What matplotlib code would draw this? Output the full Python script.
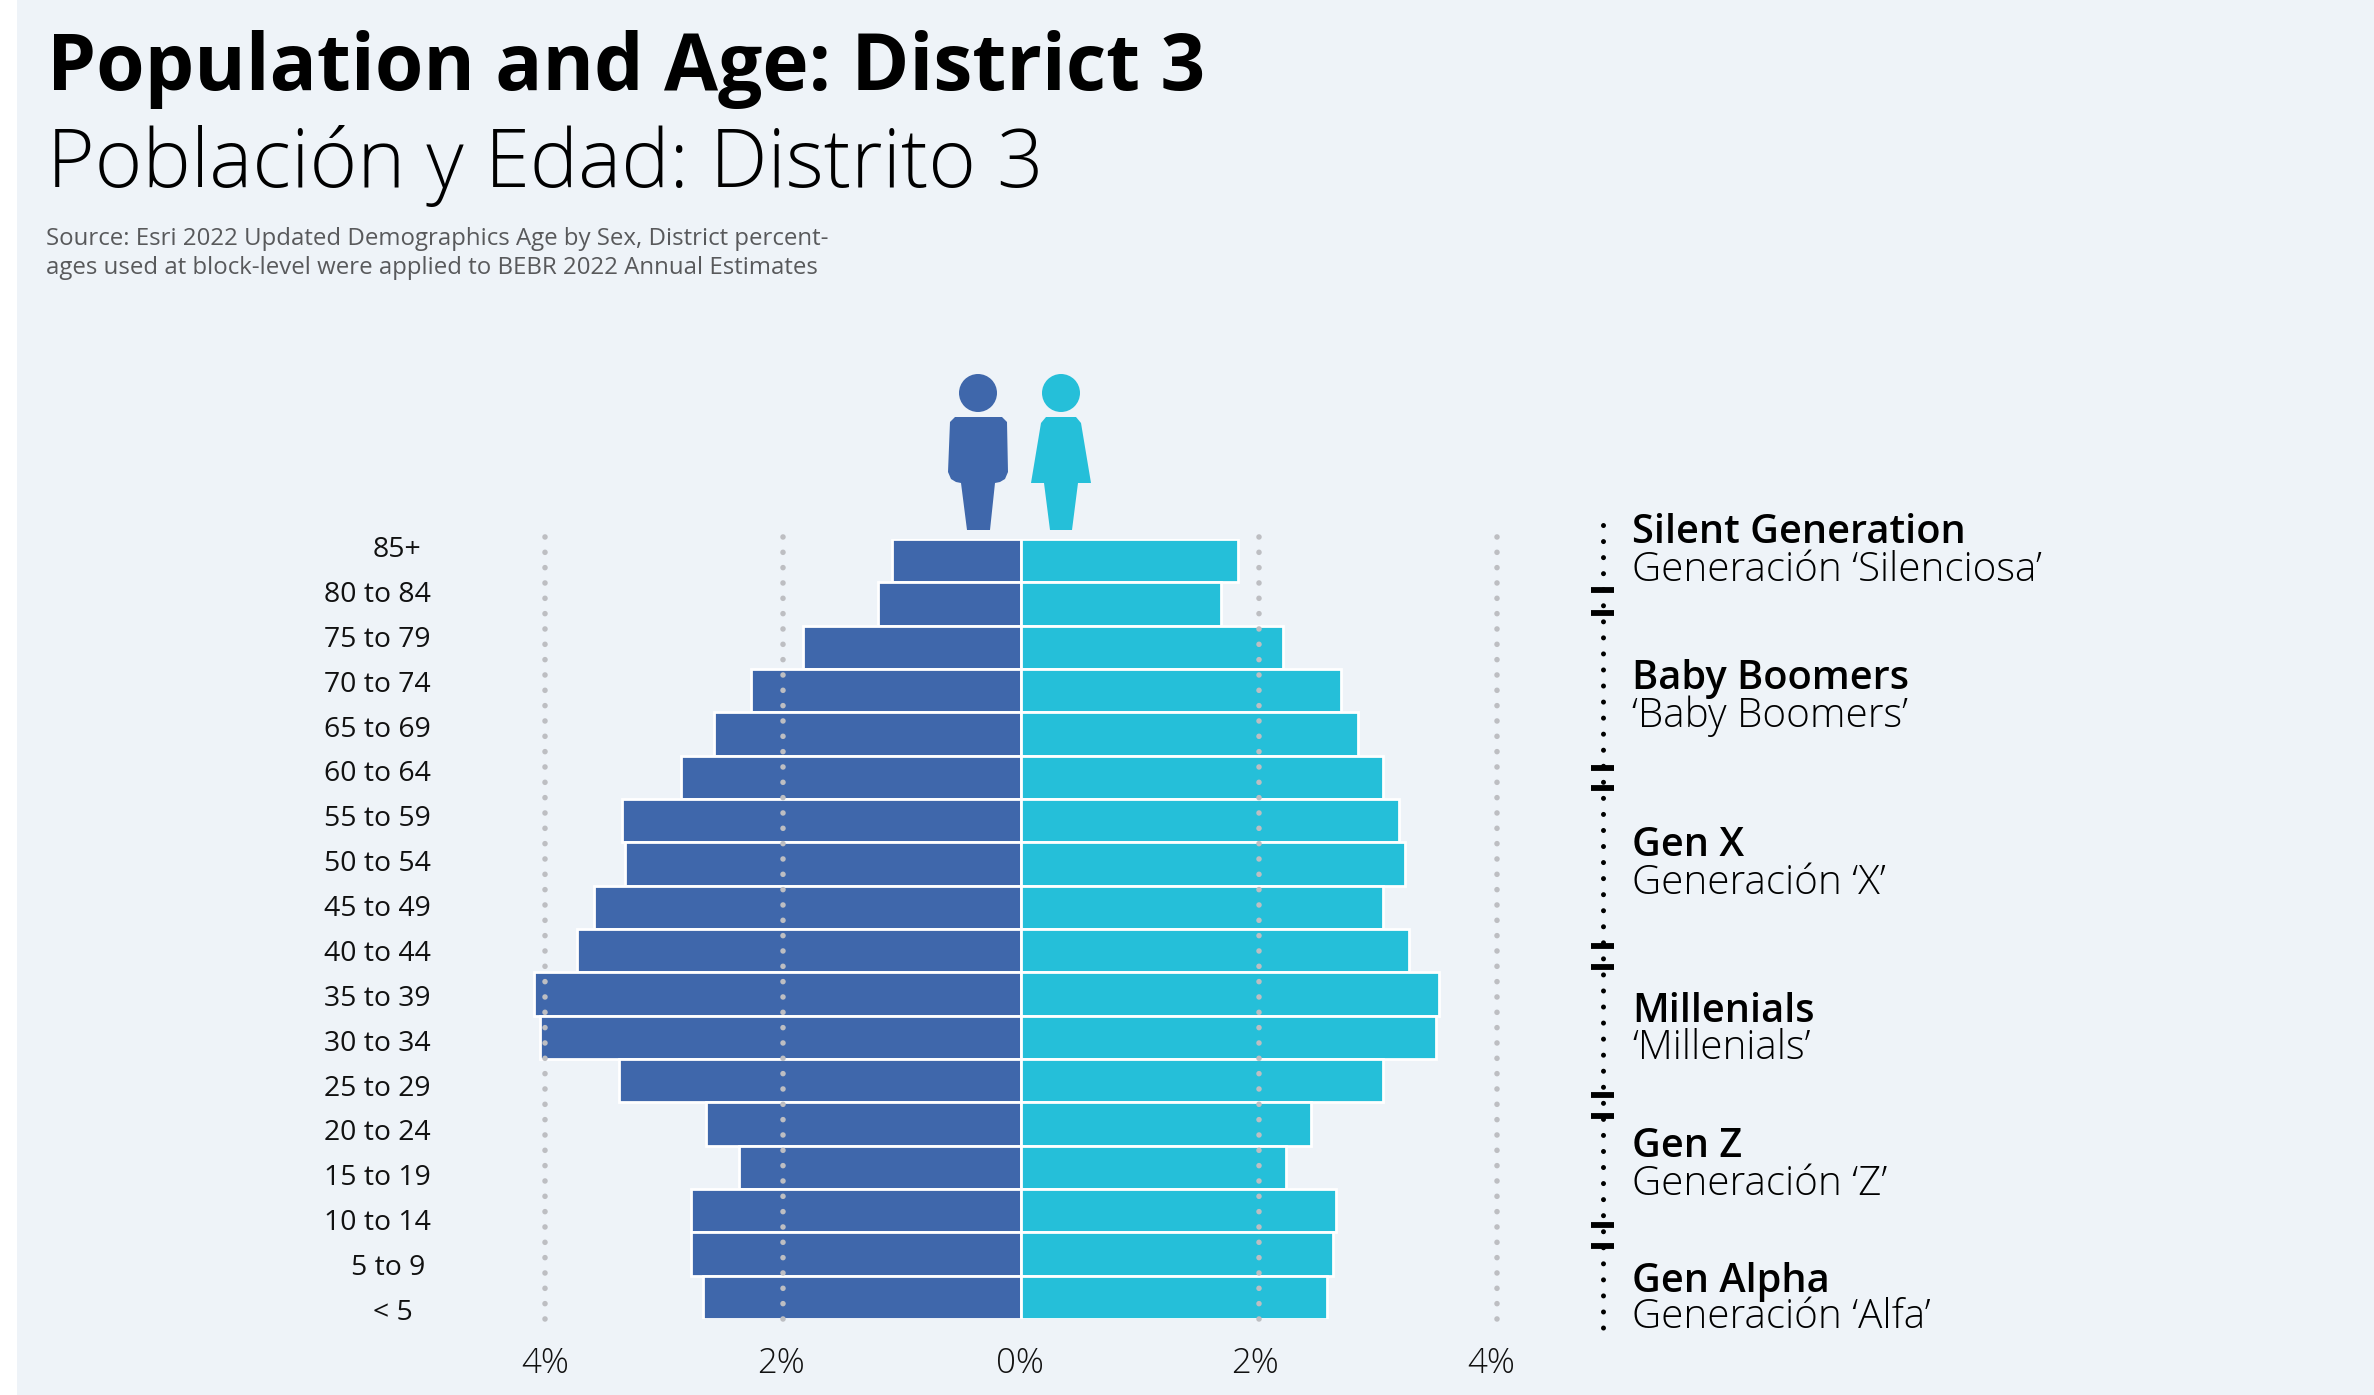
import numpy as np
import matplotlib
matplotlib.use('Agg')
import matplotlib.pyplot as plt
from matplotlib.patches import Rectangle, Circle, Polygon

# Datos
ages = ['85+', '80 to 84', '75 to 79', '70 to 74', '65 to 69', '60 to 64', '55 to 59', '50 to 54', '45 to 49',
        '40 to 44', '35 to 39', '30 to 34', '25 to 29', '20 to 24', '15 to 19', '10 to 14', '5 to 9', '< 5']
male = [1.08, 1.20, 1.83, 2.27, 2.58, 2.86, 3.35, 3.33, 3.59, 3.73, 4.09, 4.04, 3.38, 2.65, 2.37, 2.77, 2.77, 2.67]
female = [1.82, 1.68, 2.20, 2.69, 2.83, 3.04, 3.18, 3.23, 3.04, 3.26, 3.51, 3.49, 3.04, 2.44, 2.23, 2.65, 2.62, 2.57]
ticks = [-4, -2, 0, 2, 4]
tick_labels = ['4%', '2%', '0%', '2%', '4%']
gen_en = ['Silent Generation', 'Baby Boomers', 'Gen X', 'Millenials', 'Gen Z', 'Gen Alpha']
gen_es = ['Generación ‘Silenciosa’', '‘Baby Boomers’', 'Generación ‘X’', '‘Millenials’', 'Generación ‘Z’', 'Generación ‘Alfa’']

BLUE = '#3F67AB'
CYAN = '#25BFD9'
BG = '#EEF3F8'
FONT = 'Open Sans'

W, H = 2374, 1395
fig = plt.figure(figsize=(W / 100, H / 100), dpi=100, facecolor='white')

# Capa de fondo en pixeles
bg = fig.add_axes([0, 0, 1, 1], zorder=0)
bg.set_xlim(0, W)
bg.set_ylim(H, 0)
bg.axis('off')
bg.add_patch(Rectangle((17, 0), W - 17, H, color=BG, lw=0))

# Titulos
bg.text(47, 90, 'Population and Age: District 3', fontsize=56.4, fontweight='bold', family=FONT, color='black')
bg.text(47, 187, 'Población y Edad: Distrito 3', fontsize=58.6, fontweight='light', family=FONT, color='black')
bg.text(46, 245, 'Source: Esri 2022 Updated Demographics Age by Sex, District percent-', fontsize=17.27, family=FONT, color='#58595B')
bg.text(46, 274, 'ages used at block-level were applied to BEBR 2022 Annual Estimates', fontsize=17.27, family=FONT, color='#58595B')

# Piramide
x0 = 1021
px_pct = 119
top, bottom = 539, 1319
n = len(ages)
ax = fig.add_axes([(x0 - 4.6 * px_pct) / W, 1 - bottom / H, 9.2 * px_pct / W, (bottom - top) / H], zorder=1)
ax.patch.set_alpha(0)
y = np.arange(n)
ax.barh(y, -np.array(male), height=1, color=BLUE, edgecolor='white', linewidth=2)
ax.barh(y, female, height=1, color=CYAN, edgecolor='white', linewidth=2)
ax.set_xlim(-4.6, 4.6)
ax.set_ylim(n - 0.5, -0.5)
for s in ax.spines.values():
    s.set_visible(False)
ax.set_yticks([])
ax.set_xticks([])

# Las etiquetas del eje no estan centradas del todo en el original
tick_shift = [0, -1.1, -1.1, -3.2, -4.3]
for t, lab, dx in zip(ticks, tick_labels, tick_shift):
    ax.annotate(lab, (t, n - 0.5), xycoords='data', xytext=(dx, -32), textcoords='offset points',
                fontsize=25, fontweight='light', family=FONT, color='#111111', ha='center', va='center')

for t in [-4, -2, 2, 4]:
    ax.plot([t, t], [n - 0.5, -0.57], color='#BDBEC2', lw=4, dashes=(0.01, 2.75), dash_capstyle='round', clip_on=False, zorder=5)

# Etiquetas de edad
label_x = [397, 377, 377, 377, 377, 377, 377, 377, 377, 377, 377, 377, 377, 377, 377, 377, 388, 393]
for lab, lx, ly in zip(ages, label_x, np.linspace(550, 1313, n)):
    bg.text(lx, ly, lab, fontsize=20.4, family=FONT, color='#111111', ha='center', va='center')

# Iconos
bg.add_patch(Circle((978, 393), 19, color=BLUE, lw=0))
bg.add_patch(Polygon([(950, 422), (955, 417), (1002, 417), (1007, 422), (1008, 472), (1005, 479), (1000, 482), (995, 483),
                      (990, 530), (967, 530), (961, 483), (956, 482), (951, 479), (948, 472)], closed=True, color=BLUE, lw=0))
bg.add_patch(Circle((1061, 393), 19, color=CYAN, lw=0))
bg.add_patch(Polygon([(1041, 423), (1046, 417), (1076, 417), (1081, 423), (1091, 483), (1078, 483), (1072, 530), (1050, 530),
                      (1044, 483), (1031, 483)], closed=True, color=CYAN, lw=0))

# Corchetes de generaciones
bg.plot([1603, 1603], [525, 1328], color='black', lw=3.6, dashes=(0.01, 3.2), dash_capstyle='round')
for yy in [590, 613, 768, 788, 946, 967, 1095, 1116, 1225, 1246]:
    bg.plot([1591, 1614], [yy, yy], color='black', lw=4.2, solid_capstyle='butt')

en_base = [543, 689, 856, 1022, 1157, 1292]
es_base = [581, 727, 894, 1059, 1195, 1328]
for en, es, ye, ys in zip(gen_en, gen_es, en_base, es_base):
    bg.text(1632, ye, en, fontsize=28.6, fontweight='semibold', family=FONT, color='black')
    bg.text(1632, ys, es, fontsize=29.1, fontweight='light', family=FONT, color='black')

fig.savefig('out.png', dpi=100, facecolor='white')
